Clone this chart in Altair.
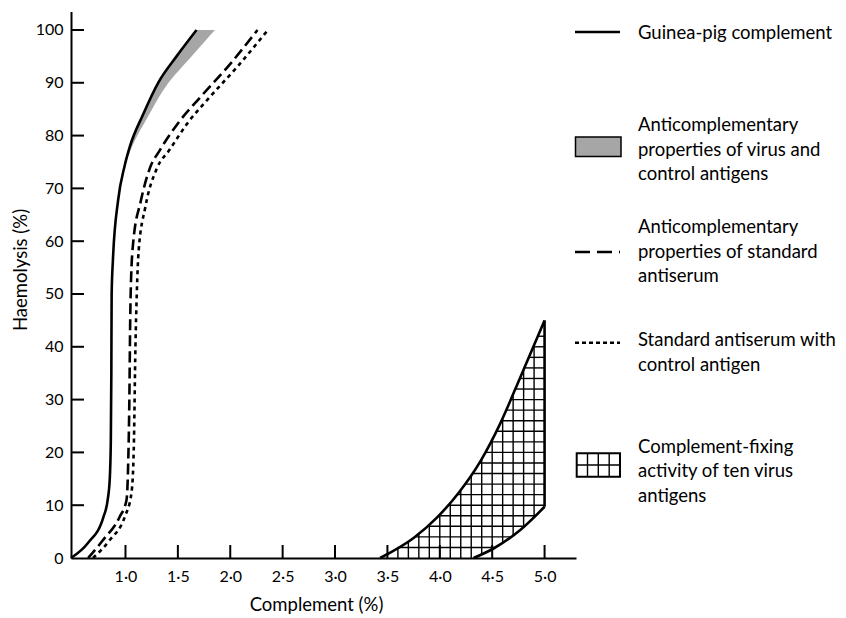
import altair as alt
import numpy as np
import pandas as pd

# ---------------- data ----------------
# Guinea-pig complement (solid)
guinea_x = [0.48, 0.64, 0.79, 0.83, 0.85, 0.86, 0.865, 0.868, 0.88, 0.93, 0.99, 1.04, 1.168, 1.312, 1.487, 1.678]
guinea_y = [0, 2.8, 7.8, 11, 15, 22, 35, 50, 56.4, 67.8, 74.1, 77.8, 84, 90, 95, 100]

# Stippled band: anticomplementary properties of virus and control antigens
stip_y = [74.1, 77.8, 84, 90, 95, 100]
stip_left = [0.99, 1.04, 1.168, 1.312, 1.487, 1.678]
stip_right = [0.99, 1.06, 1.226, 1.41, 1.63, 1.853]

# Anticomplementary properties of standard antiserum (dashed)
dash_x = [0.643, 0.786, 0.945, 1.01, 1.025, 1.037, 1.045, 1.052, 1.075, 1.145, 1.232, 1.33, 1.50, 1.72, 1.98, 2.26]
dash_y = [0, 3.4, 7.8, 11, 17.3, 30, 45, 52, 60, 67.5, 73.8, 77.3, 82.3, 87.4, 93.1, 100]

# Standard antiserum with control antigen (dotted)
dot_x = [0.69, 0.85, 0.993, 1.057, 1.079, 1.095, 1.108, 1.125, 1.19, 1.30, 1.42, 1.59, 1.81, 2.07, 2.347]
dot_y = [0, 3.4, 7.8, 12.3, 20.5, 40, 50.1, 58, 66.5, 73.8, 77.3, 82.3, 87.4, 93.1, 99.7]

# Complement-fixing activity of ten virus antigens (cross-hatched)
hatch_up_x = [3.43, 3.75, 3.97, 4.19, 4.39, 4.58, 4.77, 5.0]
hatch_up_y = [0, 3.8, 7.6, 12.6, 18.4, 25.6, 34.3, 45]
hatch_lo_x = [4.322, 4.513, 4.768, 5.0]
hatch_lo_y = [0, 1.8, 5.3, 9.7]

x_ticks = [1.0, 1.5, 2.0, 2.5, 3.0, 3.5, 4.0, 4.5, 5.0]
y_ticks = [0, 10, 20, 30, 40, 50, 60, 70, 80, 90, 100]

legend_texts = [
    ["Guinea-pig complement"],
    ["Anticomplementary", "properties of virus and", "control antigens"],
    ["Anticomplementary", "properties of standard", "antiserum"],
    ["Standard antiserum with", "control antigen"],
    ["Complement-fixing", "activity of ten virus", "antigens"],
]

# ---------------- layout ----------------
W, H = 505, 546.5
FONT = "Lato"
xscale = alt.Scale(domain=[0.48, 5.3], nice=False, zero=False)
yscale = alt.Scale(domain=[0, 103.5], nice=False, zero=False)
STROKE = 2.6
legend_first_y = [21.5, 113.5, 215.5, 328.5, 435.2]
legend_line_h = 24.5
legend_text_x = 567

label_expr = "replace(format(datum.value, '.1f'), '.', '·')"

xaxis = alt.Axis(values=x_ticks, labelExpr=label_expr, ticks=False, tickSize=0, grid=False,
                 domainColor="black", domainWidth=2, labelPadding=10,
                 labelFont=FONT, labelFontSize=16, labelColor="black",
                 titleFont=FONT, titleFontSize=18.5, titleFontWeight="normal", titleColor="black",
                 titleX=245, titleY=46, titleBaseline="middle")
yaxis = alt.Axis(values=y_ticks, ticks=False, tickSize=0, grid=False,
                 domainColor="black", domainWidth=2, labelPadding=8,
                 labelFont=FONT, labelFontSize=16, labelColor="black",
                 titleFont=FONT, titleFontSize=18.5, titleFontWeight="normal", titleColor="black",
                 titleX=-51, titleY=258, titleBaseline="middle", titleAlign="center")
XT, YT = "Complement (%)", "Haemolysis (%)"

# ---------------- frames ----------------
df_g = pd.DataFrame({"x": guinea_x, "y": guinea_y, "o": range(len(guinea_x))})
df_s = pd.DataFrame({"y": stip_y, "x": stip_left, "x2": stip_right})
df_d = pd.DataFrame({"x": dash_x, "y": dash_y, "o": range(len(dash_x))})
df_t = pd.DataFrame({"x": dot_x, "y": dot_y, "o": range(len(dot_x))})
df_hu = pd.DataFrame({"x": hatch_up_x, "y": hatch_up_y, "o": range(len(hatch_up_x))})
df_hl = pd.DataFrame({"x": hatch_lo_x, "y": hatch_lo_y, "o": range(len(hatch_lo_x))})
df_edge = pd.DataFrame({"x": [5.0], "y": [hatch_lo_y[-1]], "y2": [hatch_up_y[-1]]})

# cross-hatch grid lines derived from the boundary curves
vx = np.round(np.arange(3.6, 4.95, 0.1), 2)
vtop = np.interp(vx, hatch_up_x, hatch_up_y)
vbot = np.where(vx >= hatch_lo_x[0], np.interp(vx, hatch_lo_x, hatch_lo_y), 0)
df_vg = pd.DataFrame({"x": vx, "y": vbot, "y2": vtop})
hy = np.arange(2, 45, 2)
hleft = np.interp(hy, hatch_up_y, hatch_up_x)
hright = np.where(hy <= hatch_lo_y[-1], np.interp(hy, hatch_lo_y, hatch_lo_x), 5.0)
df_hg = pd.DataFrame({"y": hy, "x": hleft, "x2": hright})


def X(f="x"):
    return alt.X(f"{f}:Q", scale=xscale, axis=xaxis, title=XT)


def Y(f="y"):
    return alt.Y(f"{f}:Q", scale=yscale, axis=yaxis, title=YT)


base_axes = alt.Chart(pd.DataFrame({"x": [0.48, 5.3], "y": [0, 103.5]})).mark_point(opacity=0).encode(
    x=X(), y=Y())

xt = alt.Chart(pd.DataFrame({"v": x_ticks})).mark_rule(color="black", strokeWidth=2).encode(
    x=X("v"), y=alt.value(H), y2=alt.value(H - 13))
yt = alt.Chart(pd.DataFrame({"v": y_ticks[1:]})).mark_rule(color="black", strokeWidth=2).encode(
    y=Y("v"), x=alt.value(0), x2=alt.value(13))

stip = alt.Chart(df_s).mark_area(orient="horizontal", color="#a6a6a6", interpolate="monotone").encode(
    y=Y("y"), x=X("x"), x2="x2:Q")

guinea = alt.Chart(df_g).mark_line(color="black", strokeWidth=STROKE, interpolate="monotone").encode(
    x=X(), y=Y(), order="o:Q")
dashed = alt.Chart(df_d).mark_line(color="black", strokeWidth=STROKE, strokeDash=[11, 5], interpolate="monotone").encode(
    x=X(), y=Y(), order="o:Q")
dotted = alt.Chart(df_t).mark_line(color="black", strokeWidth=STROKE, strokeDash=[4, 4], interpolate="monotone").encode(
    x=X(), y=Y(), order="o:Q")

vgrid = alt.Chart(df_vg).mark_rule(color="black", strokeWidth=1.4).encode(x=X(), y=Y(), y2="y2:Q")
hgrid = alt.Chart(df_hg).mark_rule(color="black", strokeWidth=1.4).encode(y=Y(), x=X(), x2="x2:Q")
hup = alt.Chart(df_hu).mark_line(color="black", strokeWidth=STROKE, interpolate="monotone").encode(
    x=X(), y=Y(), order="o:Q")
hlo = alt.Chart(df_hl).mark_line(color="black", strokeWidth=STROKE, interpolate="monotone").encode(
    x=X(), y=Y(), order="o:Q")
hedge = alt.Chart(df_edge).mark_rule(color="black", strokeWidth=STROKE).encode(x=X(), y=Y(), y2="y2:Q")

# ---------------- legend ----------------
rows = []
for i, lines in enumerate(legend_texts):
    for j, t in enumerate(lines):
        rows.append({"t": t, "py": legend_first_y[i] + j * legend_line_h})
leg_text = alt.Chart(pd.DataFrame(rows)).mark_text(
    align="left", baseline="middle", font=FONT, fontSize=18.5, color="black").encode(
    x=alt.value(legend_text_x), y=alt.Y("py:Q", scale=None), text="t:N")

one = pd.DataFrame({"a": [0]})
leg_solid = alt.Chart(one).mark_rule(color="black", strokeWidth=STROKE).encode(
    x=alt.value(504), x2=alt.value(549), y=alt.value(20.5))
leg_stip = alt.Chart(one).mark_rect(fill="#a6a6a6", stroke="black", strokeWidth=1.5).encode(
    x=alt.value(504.5), x2=alt.value(550), y=alt.value(125.5), y2=alt.value(145))
leg_dash = alt.Chart(one).mark_rule(color="black", strokeWidth=STROKE, strokeDash=[15, 7]).encode(
    x=alt.value(504), x2=alt.value(549), y=alt.value(240.5))
leg_dot = alt.Chart(one).mark_rule(color="black", strokeWidth=STROKE, strokeDash=[4, 3]).encode(
    x=alt.value(504), x2=alt.value(549), y=alt.value(331.2))
leg_grid = alt.Chart(one).mark_rect(fill="white", stroke="black", strokeWidth=2).encode(
    x=alt.value(505.7), x2=alt.value(549), y=alt.value(441.8), y2=alt.value(465.2))
leg_gv = alt.Chart(pd.DataFrame({"px": [516.5, 527.3, 538.2]})).mark_rule(color="black", strokeWidth=1.4).encode(
    x=alt.X("px:Q", scale=None), y=alt.value(441.8), y2=alt.value(465.2))
leg_gh = alt.Chart(one).mark_rule(color="black", strokeWidth=1.4).encode(
    x=alt.value(505.7), x2=alt.value(549), y=alt.value(453.5))

chart = alt.layer(
    base_axes, stip, vgrid, hgrid, guinea, dashed, dotted, hup, hlo, hedge, xt, yt,
    leg_text, leg_solid, leg_stip, leg_dash, leg_dot, leg_grid, leg_gv, leg_gh,
).properties(
    width=W, height=H,
    padding={"left": 63, "top": 3.5, "right": 262, "bottom": 60},
    autosize=alt.AutoSizeParams(type="none"),
    background="white",
).configure_view(stroke=None)

chart.save("out.html", embed_options={"renderer": "svg", "actions": False})
